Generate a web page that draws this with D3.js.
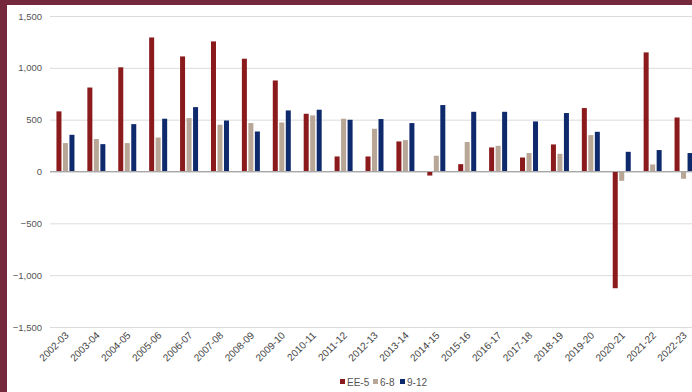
<!DOCTYPE html>
<html>
<head>
<meta charset="utf-8">
<script src="https://cdn.jsdelivr.net/npm/d3@7"></script>
<style>
  html, body { margin: 0; padding: 0; background: #76293c; overflow: hidden; }
  svg { display: block; }
  text { font-family: "Liberation Sans", Arial, sans-serif; }
</style>
</head>
<body>
<svg id="chart" width="692" height="392"></svg>
<script>
// School years
const years = ["2002-03","2003-04","2004-05","2005-06","2006-07","2007-08","2008-09",
  "2009-10","2010-11","2011-12","2012-13","2013-14","2014-15","2015-16","2016-17",
  "2017-18","2018-19","2019-20","2020-21","2021-22","2022-23"];

// Grade-band series
const seriesNames = ["EE-5", "6-8", "9-12"];
const ee5  = [580, 810, 1005, 1293, 1110, 1255, 1088, 878, 557, 145, 145, 290, -39, 71, 232, 135, 261, 612, -1126, 1149, 521];
const g6_8 = [274, 313, 274, 328, 515, 451, 467, 473, 541, 509, 412, 303, 152, 284, 248, 178, 171, 351, -90, 68, -70];
const g9_12 = [354, 264, 457, 509, 621, 492, 386, 589, 596, 499, 506, 467, 641, 576, 576, 483, 564, 383, 190, 207, 178];

const yTicks = [-1500, -1000, -500, 0, 500, 1000, 1500];
const colors = ["#8a1a1c", "#b8a697", "#0f2a6c"];

const svg = d3.select("#chart");

// framed white panel
svg.append("rect").attr("x", 7).attr("y", 5).attr("width", 692).attr("height", 392).attr("fill", "#fff");

const x0 = d3.scaleBand().domain(years).range([50, 699])
  .paddingInner(0.4175).paddingOuter(0.20875);
const x1 = d3.scaleBand().domain(seriesNames).range([0, x0.bandwidth()]).paddingInner(0.23);
const y = d3.scaleLinear().domain([-1500, 1500]).range([327, 16]);
const color = d3.scaleOrdinal().domain(seriesNames).range(colors);

// gridlines + y labels
const yAxis = d3.axisLeft(y).tickValues(yTicks).tickSize(0).tickPadding(8)
  .tickFormat(d3.format(","));
const ga = svg.append("g").attr("transform", "translate(50,0)").call(yAxis);
ga.select(".domain").remove();
ga.selectAll("text").attr("font-size", 9.5).attr("fill", "#555");
ga.selectAll(".tick").append("line")
  .attr("x1", 0).attr("x2", 650)
  .attr("stroke", d => d === 0 ? "#b5b5b5" : "#dcdcdc").attr("stroke-width", 1);

// bars
const table = years.map((yr, i) => ({ yr, vals: [ee5[i], g6_8[i], g9_12[i]] }));
const groups = svg.append("g").selectAll("g").data(table).join("g")
  .attr("transform", d => `translate(${x0(d.yr)},0)`);
groups.selectAll("rect")
  .data(d => d.vals.map((v, k) => ({ key: seriesNames[k], v })))
  .join("rect")
  .attr("x", d => x1(d.key))
  .attr("width", x1.bandwidth())
  .attr("y", d => y(Math.max(0, d.v)))
  .attr("height", d => Math.abs(y(d.v) - y(0)))
  .attr("fill", d => color(d.key));

// redraw zero line on top of bars
svg.append("line").attr("x1", 50).attr("x2", 700)
  .attr("y1", y(0)).attr("y2", y(0)).attr("stroke", "#a8a8a8");

// x labels, rotated
const xAxis = d3.axisBottom(x0).tickSize(0).tickPadding(0);
const gx = svg.append("g").attr("transform", "translate(0,327)").call(xAxis);
gx.select(".domain").remove();
gx.selectAll("text")
  .attr("font-size", 10).attr("fill", "#444")
  .attr("text-anchor", "end")
  .attr("dy", 0)
  .attr("transform", "translate(4,9) rotate(-45)");

// legend
const legend = svg.append("g").attr("transform", "translate(340,382)");
const lx = [0, 33, 60];
seriesNames.forEach((s, i) => {
  const g = legend.append("g").attr("transform", `translate(${lx[i]},0)`);
  g.append("rect").attr("x", 0).attr("y", -3).attr("width", 5).attr("height", 5).attr("fill", color(s));
  g.append("text").attr("x", 7).attr("y", 3.5).attr("font-size", 10).attr("fill", "#555").text(s);
});
</script>
</body>
</html>
